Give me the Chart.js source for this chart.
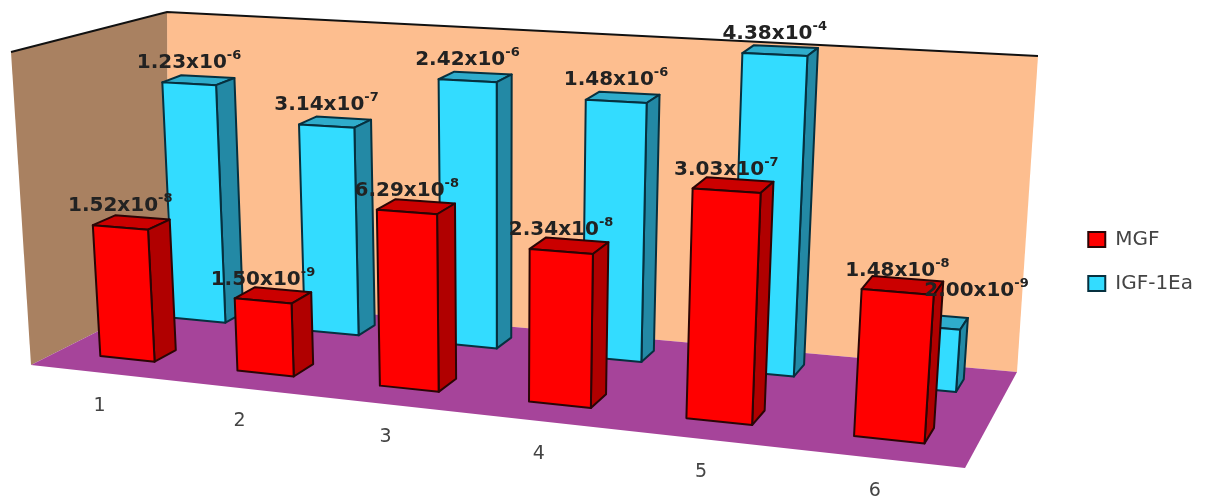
<!DOCTYPE html>
<html>
<head>
<meta charset="utf-8">
<script src="https://cdn.jsdelivr.net/npm/chart.js@4/dist/chart.umd.js"></script>
<style>
body { margin: 0; background: #fff; }
</style>
</head>
<body>
<canvas id="chart1" width="1213" height="501"></canvas>
<script>
var categories = ['1', '2', '3', '4', '5', '6'];
var seriesNames = ['MGF', 'IGF-1Ea'];

// bar heights read off the log axis of the picture
// the last two IGF-1Ea labels do not agree with how tall those bars are drawn,
// so those two go by the height and the label stays as printed
var mgfValues = [1.52e-8, 1.50e-9, 6.29e-8, 2.34e-8, 3.03e-7, 1.48e-8];
var igfValues = [1.23e-6, 3.14e-7, 2.42e-6, 1.48e-6, 1.10e-5, 9.00e-10];

var mgfLabels = ['1.52x10^-8', '1.50x10^-9', '6.29x10^-8', '2.34x10^-8', '3.03x10^-7', '1.48x10^-8'];
var igfLabels = ['1.23x10^-6', '3.14x10^-7', '2.42x10^-6', '1.48x10^-6', '4.38x10^-4', '2.00x10^-9'];

// room corners in the picture
var floorQuad = [[31, 365], [965, 468], [1017, 372], [168, 296]];
var backWall = [[167, 12], [1038, 56], [1017, 372], [168, 296]];
var leftWall = [[11, 52], [167, 12], [168, 296], [31, 365]];

var depths = [[0.18, 0.335], [0.72, 0.865]];
var faces = [
  { front: '#ff0000', top: '#cb0000', side: '#b00000', line: '#2a0505' },
  { front: '#33dcff', top: '#2faccb', side: '#2389a5', line: '#06303f' }
];
var vanishX = 500, vanishY = 7300;
var wallHeight = 362;

// square to quad, floor plane of the room
var q = floorQuad;
var dx1 = q[1][0] - q[2][0], dx2 = q[3][0] - q[2][0], sx = q[0][0] - q[1][0] + q[2][0] - q[3][0];
var dy1 = q[1][1] - q[2][1], dy2 = q[3][1] - q[2][1], sy = q[0][1] - q[1][1] + q[2][1] - q[3][1];
var det = dx1 * dy2 - dx2 * dy1;
var g = (sx * dy2 - dx2 * sy) / det;
var h = (dx1 * sy - sx * dy1) / det;

function floorPoint(t, s) {
  var w = 1 + g * t + h * s;
  return {
    x: ((q[1][0] - q[0][0] + g * q[1][0]) * t + (q[3][0] - q[0][0] + h * q[3][0]) * s + q[0][0]) / w,
    y: ((q[1][1] - q[0][1] + g * q[1][1]) * t + (q[3][1] - q[0][1] + h * q[3][1]) * s + q[0][1]) / w,
    k: 1 / w
  };
}

// t along the categories, s into the room, frac = share of the y axis
function project(t, s, frac) {
  var p = floorPoint(t, s);
  var len = frac * wallHeight * Math.pow(p.k, 0.7);
  return { x: p.x + (p.x - vanishX) / (vanishY - p.y) * len, y: p.y - len };
}

// the picture spaces its categories a bit flatter than the floor does
function alongFloor(chart, px) {
  var a = chart.chartArea;
  var t = (px - a.left) / a.width;
  return t + 0.075 * t * (1 - t) * (1 - 0.6 * t) + 0.003;
}

function poly(ctx, pts, fill, line, lw) {
  ctx.beginPath();
  pts.forEach(function (p, i) {
    var px = p.x === undefined ? p[0] : p.x;
    var py = p.y === undefined ? p[1] : p.y;
    if (i == 0) ctx.moveTo(px, py); else ctx.lineTo(px, py);
  });
  ctx.closePath();
  if (fill) { ctx.fillStyle = fill; ctx.fill(); }
  if (line) { ctx.strokeStyle = line; ctx.lineWidth = lw; ctx.lineJoin = 'round'; ctx.stroke(); }
}

function barBox(chart, el) {
  var a = chart.chartArea;
  return {
    t0: alongFloor(chart, el.x - el.width / 2),
    t1: alongFloor(chart, el.x + el.width / 2),
    frac: (a.bottom - el.y) / a.height
  };
}

var room = {
  id: 'room',
  beforeDatasetsDraw: function (chart) {
    var ctx = chart.ctx;
    poly(ctx, backWall, '#fdbe8f');
    poly(ctx, leftWall, '#a98161');
    poly(ctx, floorQuad, '#a6449a');
    ctx.strokeStyle = '#111';
    ctx.lineWidth = 2;
    ctx.beginPath();
    ctx.moveTo(leftWall[0][0], leftWall[0][1]);
    ctx.lineTo(backWall[0][0], backWall[0][1]);
    ctx.lineTo(backWall[1][0], backWall[1][1]);
    ctx.stroke();
  },
  // every bar becomes a box, built from the element the bar controller placed
  beforeDatasetDraw: function (chart, args) {
    var ctx = chart.ctx;
    var c = faces[args.index];
    var d = depths[args.index];
    args.meta.data.forEach(function (el) {
      var b = barBox(chart, el);
      var fl = project(b.t0, d[0], 0), fr = project(b.t1, d[0], 0), br = project(b.t1, d[1], 0);
      var tfl = project(b.t0, d[0], b.frac), tfr = project(b.t1, d[0], b.frac);
      var tbl = project(b.t0, d[1], b.frac), tbr = project(b.t1, d[1], b.frac);
      poly(ctx, [tfl, tfr, tbr, tbl], c.top, c.line, 2);
      poly(ctx, [fr, br, tbr, tfr], c.side, c.line, 2);
      poly(ctx, [fl, fr, tfr, tfl], c.front, c.line, 2);
    });
    return false;
  },
  afterDatasetsDraw: function (chart) {
    var ctx = chart.ctx;
    var xs = chart.scales.x;
    ctx.textBaseline = 'alphabetic';
    // category labels run along the front edge of the floor
    ctx.font = '19px "DejaVu Sans"';
    ctx.fillStyle = '#444';
    ctx.textAlign = 'center';
    categories.forEach(function (c, i) {
      var p = project(alongFloor(chart, xs.getPixelForValue(i)), 0, 0);
      ctx.fillText(xs.getLabelForValue(i), p.x - 2, p.y + 38);
    });
    ctx.textAlign = 'left';
    [igfLabels, mgfLabels].forEach(function (labels, n) {
      var index = n == 0 ? 1 : 0;
      var d = depths[index];
      chart.getDatasetMeta(index).data.forEach(function (el, i) {
        var b = barBox(chart, el);
        var top = project((b.t0 + b.t1) / 2, d[0], b.frac);
        var parts = labels[i].split('^');
        ctx.font = 'bold 20px "DejaVu Sans"';
        var w1 = ctx.measureText(parts[0]).width;
        ctx.font = 'bold 13px "DejaVu Sans"';
        var w2 = ctx.measureText(parts[1]).width;
        var x = top.x - (w1 + w2) / 2;
        var y = top.y - 16;
        if (index == 1 && i == 5) { x += 50; y -= 15; }
        ctx.fillStyle = '#222';
        ctx.font = 'bold 20px "DejaVu Sans"';
        ctx.fillText(parts[0], x, y);
        ctx.font = 'bold 13px "DejaVu Sans"';
        ctx.fillText(parts[1], x + w1, y - 9);
      });
    });
  }
};

var myChart = new Chart(document.getElementById('chart1').getContext('2d'), {
  type: 'bar',
  data: {
    labels: categories,
    datasets: [
      { label: seriesNames[0], data: mgfValues, backgroundColor: faces[0].front, borderColor: faces[0].line, borderWidth: 2 },
      { label: seriesNames[1], data: igfValues, backgroundColor: faces[1].front, borderColor: faces[1].line, borderWidth: 2 }
    ]
  },
  options: {
    responsive: false,
    animation: false,
    layout: { padding: { top: 22, right: 10 } },
    datasets: { bar: { grouped: false, barPercentage: 0.4, categoryPercentage: 1 } },
    scales: {
      x: { display: false },
      y: { display: false, type: 'logarithmic', min: 1e-10, max: 1e-4 }
    },
    plugins: {
      legend: {
        position: 'right',
        labels: { boxWidth: 17, boxHeight: 15, padding: 24, color: '#444', font: { family: 'DejaVu Sans', size: 20 } }
      },
      tooltip: { enabled: false }
    }
  },
  plugins: [room]
});
</script>
</body>
</html>
